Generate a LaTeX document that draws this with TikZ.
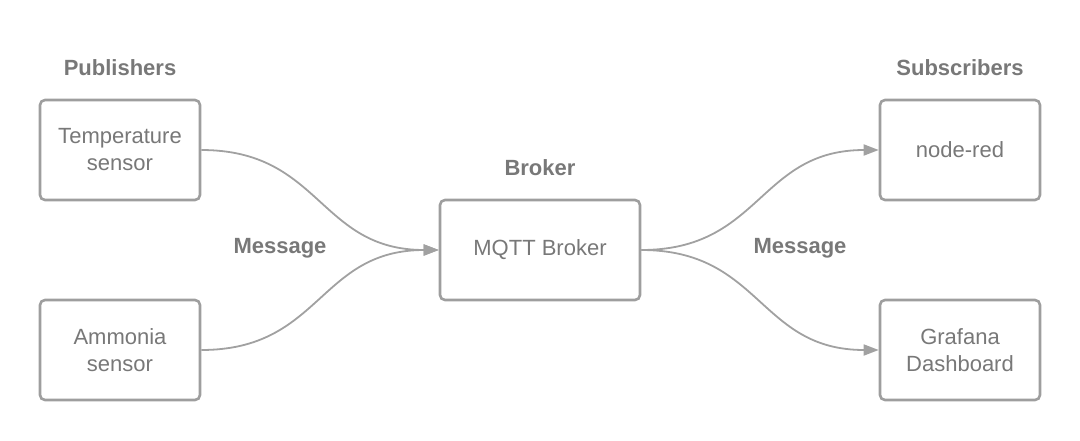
\documentclass[tikz,border=0pt]{standalone}
\usepackage{fontspec}
\setmainfont{Liberation Sans}
\usetikzlibrary{arrows.meta}
\definecolor{BoxClr}{rgb}{0.62,0.62,0.62}
\definecolor{TextClr}{rgb}{0.47,0.47,0.47}
\definecolor{LinkClr}{rgb}{0.63,0.63,0.63}

\begin{document}
\begin{tikzpicture}[x=1pt,y=-1pt,
  box/.style={draw=BoxClr,line width=2.6pt,rounded corners=5pt,fill=white,
    minimum width=160pt,minimum height=100pt,inner sep=0pt,align=center,
    text=TextClr,font=\fontsize{22}{27}\selectfont},
  group/.style={text=TextClr,font=\fontsize{22}{27}\selectfont\bfseries},
  link/.style={draw=LinkClr,line width=1.8pt,-{Triangle[length=15pt,width=11pt]}}]
\useasboundingbox (0,0) rectangle (1080,440);

\node[box] (temp) at (120,150) {Temperature\\sensor};
\node[box] (amm) at (120,350) {Ammonia\\sensor};
\node[box,minimum width=200pt] (broker) at (540,250) {MQTT Broker};
\node[box] (nodered) at (960,150) {node-red};
\node[box] (grafana) at (960,350) {Grafana\\Dashboard};

\node[group] (pub) at (120,68) {Publishers};
\node[group] (sub) at (960,68) {Subscribers};
\node[group] (brk) at (540,168) {Broker};
\node[group] (msgin) at (280,248) {Message};
\node[group] (msgout) at (800,248) {Message};

\draw[link] (temp.east) .. controls +(120,0) and +(-120,0) .. (broker.west);
\draw[link] (amm.east) .. controls +(120,0) and +(-120,0) .. (broker.west);
\draw[link] (broker.east) .. controls +(120,0) and +(-120,0) .. (nodered.west);
\draw[link] (broker.east) .. controls +(120,0) and +(-120,0) .. (grafana.west);
\end{tikzpicture}
\end{document}
